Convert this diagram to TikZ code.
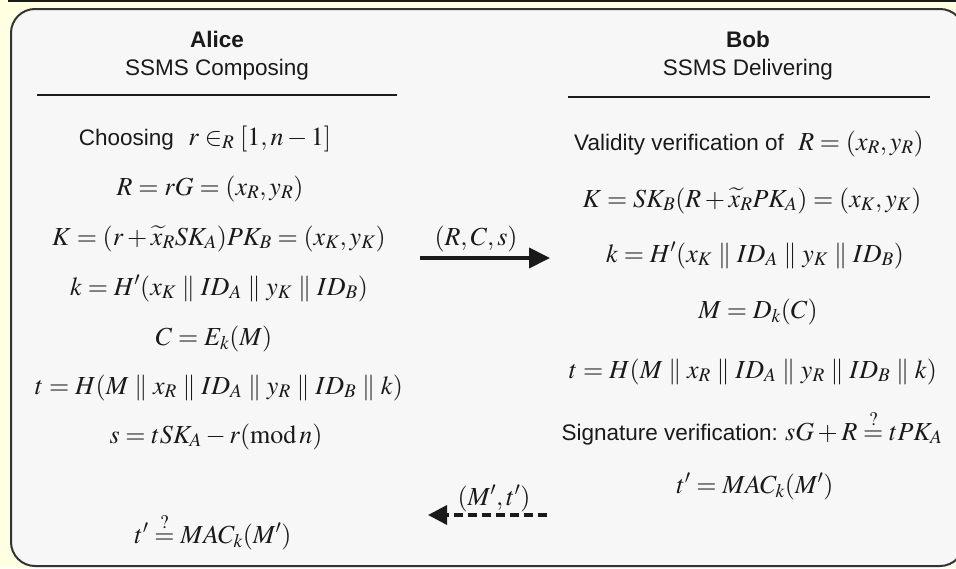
\documentclass[tikz,border=0pt]{standalone}
\usepackage{amsmath}
\usepackage{mathptmx}
\usepackage[no-math]{fontspec}
\setmainfont{Liberation Sans}
\usetikzlibrary{arrows.meta}
\definecolor{paleyellow}{HTML}{FFFFE1}
\definecolor{panelgray}{HTML}{F7F7F7}
\definecolor{ink}{HTML}{1A1A1A}
\definecolor{edgegray}{HTML}{333333}
\tikzset{
  who/.style={font=\bfseries\fontsize{22.5}{26}\selectfont,text=ink,anchor=base,inner sep=0pt},
  role/.style={font=\fontsize{22.5}{26}\selectfont,text=ink,anchor=base,inner sep=0pt},
  eq/.style={font=\fontsize{26}{30}\selectfont,text=ink,anchor=base,inner sep=0pt},
  panel/.style={rounded corners=24pt,draw=edgegray,fill=panelgray,line width=2pt},
  hrule/.style={draw=ink,line width=2pt},
  msg/.style={-{Triangle[length=21pt,width=20pt]},draw=ink,line width=4pt},
  reply/.style={-{Triangle[length=19pt,width=19pt]},draw=ink,line width=3.5pt,dash pattern=on 9pt off 5pt}
}
\newcommand{\plain}[1]{{\fontsize{22.5}{26}\selectfont #1}}

\begin{document}
\begin{tikzpicture}[x=1pt,y=-1pt]
\path[use as bounding box] (0,0) rectangle (956,568);
\clip (0,0) rectangle (956,568);
\fill[paleyellow] (0,0) rectangle (956,568);
\fill[ink] (8,-2) rectangle (956,2.2);
\draw[panel] (11,9) rectangle (964,566);

\node[who] (alice) at (217,47) {Alice};
\node[role] (compose) at (217,75) {SSMS Composing};
\draw[hrule] (37,95) -- (397,95);
\node[eq] (choose) at (205,145) {\plain{Choosing}\ \ $r\in_R[1,n-1]$};
\node[eq] (rG) at (210,195) {$R=rG=(x_R,y_R)$};
\node[eq] (KA) at (219,245) {$K=(r+\widetilde{x}_R SK_A)PK_B=(x_K,y_K)$};
\node[eq] (kA) at (219,295) {$k=H'(x_K\parallel ID_A\parallel y_K\parallel ID_B)$};
\node[eq] (enc) at (214,345) {$C=E_k(M)$};
\node[eq] (tA) at (219,394) {$t=H(M\parallel x_R\parallel ID_A\parallel y_R\parallel ID_B\parallel k)$};
\node[eq] (sA) at (216,443) {$s=tSK_A-r(\mathrm{mod}\,n)$};
\node[eq] (macA) at (213,543) {$t'\stackrel{?}{=}MAC_k(M')$};

\node[who] (bob) at (748,47) {Bob};
\node[role] (deliver) at (748,75) {SSMS Delivering};
\draw[hrule] (568,97) -- (930,97);
\node[eq] (valid) at (749,150) {\plain{Validity verification of}\ \ $R=(x_R,y_R)$};
\node[eq] (KB) at (752,207) {$K=SK_B(R+\widetilde{x}_R PK_A)=(x_K,y_K)$};
\node[eq] (kB) at (755,262) {$k=H'(x_K\parallel ID_A\parallel y_K\parallel ID_B)$};
\node[eq] (dec) at (758,318) {$M=D_k(C)$};
\node[eq] (tB) at (753,378) {$t=H(M\parallel x_R\parallel ID_A\parallel y_R\parallel ID_B\parallel k)$};
\node[eq] (verify) at (752,440) {\plain{Signature verification:}\ $sG+R\stackrel{?}{=}tPK_A$};
\node[eq] (macB) at (755,493) {$t'=MAC_k(M')$};

\coordinate (sendL) at (420,258);
\coordinate (sendR) at (550,258);
\draw[msg] (sendL) -- (sendR);
\node[eq] (rcs) at (476,245) {$(R,C,s)$};

\coordinate (replyR) at (547,515);
\coordinate (replyL) at (428,515);
\draw[reply] (replyR) -- (replyL);
\node[eq] (mt) at (494,505) {$(M',t')$};
\end{tikzpicture}
\end{document}
